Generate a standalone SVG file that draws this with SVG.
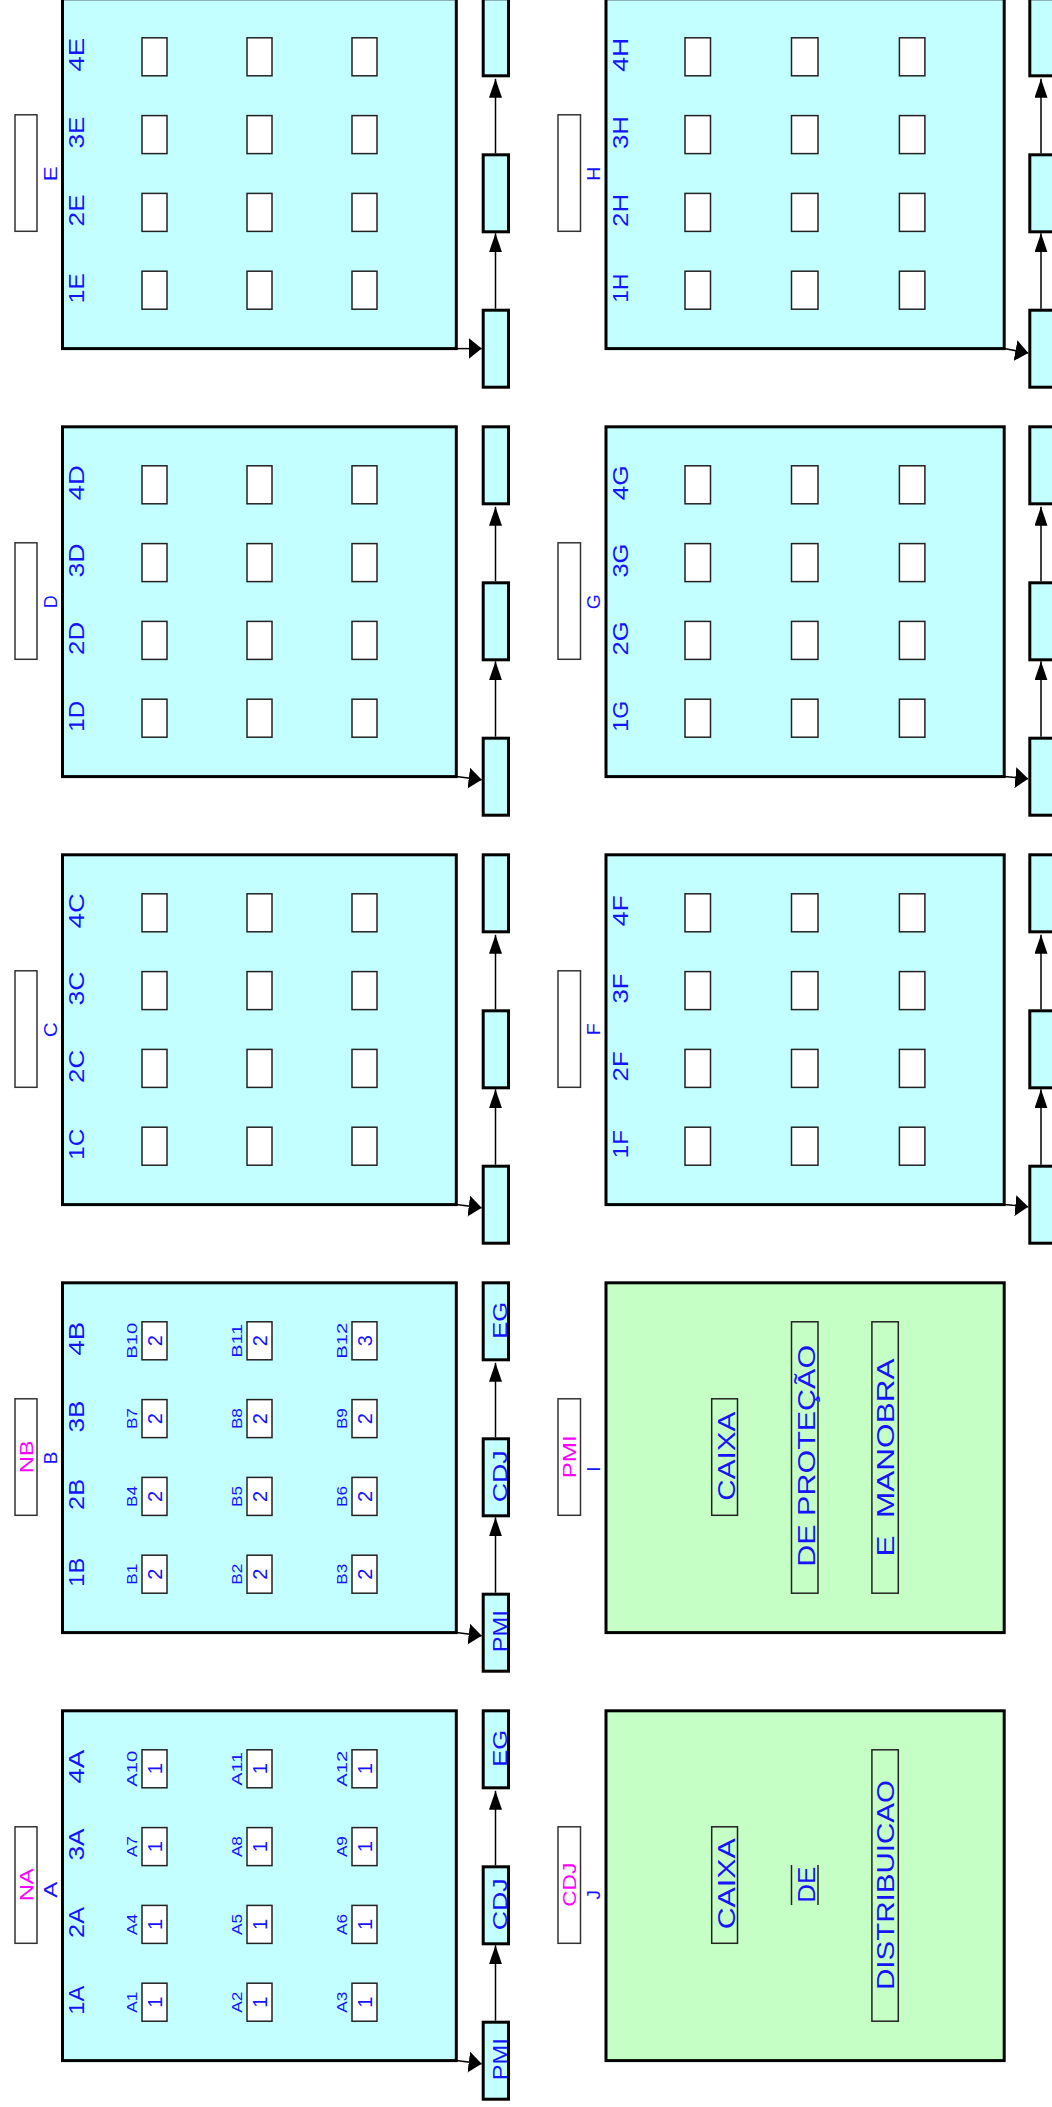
<svg xmlns="http://www.w3.org/2000/svg" width="1052" height="2107" viewBox="0 0 1052 2107">
<style>
.pn{fill:#c4ffff;stroke:#000;stroke-width:3}
.pg{fill:#c6ffc6;stroke:#000;stroke-width:3}
.bk{fill:#c4ffff;stroke:#000;stroke-width:3}
.bx{fill:#fff;stroke:#222;stroke-width:1.5}
.lb{fill:#fff;stroke:#333;stroke-width:1.5}
.tb{fill:none;stroke:#222;stroke-width:1.5}
text{font-family:"Liberation Sans",Arial,sans-serif;fill:#1414ff;text-anchor:middle}
.cl{font-size:22px}
.mg{font-size:19px;fill:#ff00ff}
.lt{font-size:19px}
.sl{font-size:15px}
.nm{font-size:20px}
.bl{font-size:21px}
.big{font-size:24px}
.cn{stroke:#000;stroke-width:1.5;fill:none}
</style>
<defs>
<marker id="av" markerUnits="userSpaceOnUse" markerWidth="19" markerHeight="13" refX="19" refY="6.5" orient="auto"><path d="M0,0 L19,6.5 L0,13 z" fill="#000"/></marker>
<marker id="ah" markerUnits="userSpaceOnUse" markerWidth="13" markerHeight="21" refX="13" refY="10.5" orient="auto"><path d="M0,0 L13,10.5 L0,21 z" fill="#000"/></marker>
</defs>
<rect width="1052" height="2107" fill="#fff"/>

<!-- Panel A -->
<g id="panel-A">
<rect class="lb" x="15" y="1826.8" width="22" height="116.5"/>
<text class="mg" transform="translate(33,1884.8) rotate(-90)" textLength="33" lengthAdjust="spacingAndGlyphs">NA</text>
<text class="lt" transform="translate(57,1889.8) rotate(-90)" textLength="16" lengthAdjust="spacingAndGlyphs">A</text>
<rect class="pn" x="62.5" y="1710.8" width="393.8" height="349.8"/>
<text class="cl" transform="translate(84,1766.8) rotate(-90)" textLength="34" lengthAdjust="spacingAndGlyphs">4A</text>
<text class="cl" transform="translate(84,1844.6) rotate(-90)" textLength="32" lengthAdjust="spacingAndGlyphs">3A</text>
<text class="cl" transform="translate(84,1922.4) rotate(-90)" textLength="31" lengthAdjust="spacingAndGlyphs">2A</text>
<text class="cl" transform="translate(84,2000.2) rotate(-90)" textLength="29" lengthAdjust="spacingAndGlyphs">1A</text>
<rect class="bx" x="142" y="1749.8" width="25" height="38"/><rect class="bx" x="247" y="1749.8" width="25" height="38"/><rect class="bx" x="352" y="1749.8" width="25" height="38"/>
<rect class="bx" x="142" y="1827.6" width="25" height="38"/><rect class="bx" x="247" y="1827.6" width="25" height="38"/><rect class="bx" x="352" y="1827.6" width="25" height="38"/>
<rect class="bx" x="142" y="1905.4" width="25" height="38"/><rect class="bx" x="247" y="1905.4" width="25" height="38"/><rect class="bx" x="352" y="1905.4" width="25" height="38"/>
<rect class="bx" x="142" y="1983.2" width="25" height="38"/><rect class="bx" x="247" y="1983.2" width="25" height="38"/><rect class="bx" x="352" y="1983.2" width="25" height="38"/>
<text class="sl" transform="translate(136.7,1768.8) rotate(-90)" textLength="36" lengthAdjust="spacingAndGlyphs">A10</text>
<text class="sl" transform="translate(241.7,1768.8) rotate(-90)" textLength="34" lengthAdjust="spacingAndGlyphs">A11</text>
<text class="sl" transform="translate(347,1768.8) rotate(-90)" textLength="36" lengthAdjust="spacingAndGlyphs">A12</text>
<text class="sl" transform="translate(136.7,1846.6) rotate(-90)" textLength="21" lengthAdjust="spacingAndGlyphs">A7</text>
<text class="sl" transform="translate(241.7,1846.6) rotate(-90)" textLength="21" lengthAdjust="spacingAndGlyphs">A8</text>
<text class="sl" transform="translate(347,1846.6) rotate(-90)" textLength="21" lengthAdjust="spacingAndGlyphs">A9</text>
<text class="sl" transform="translate(136.7,1924.4) rotate(-90)" textLength="21" lengthAdjust="spacingAndGlyphs">A4</text>
<text class="sl" transform="translate(241.7,1924.4) rotate(-90)" textLength="21" lengthAdjust="spacingAndGlyphs">A5</text>
<text class="sl" transform="translate(347,1924.4) rotate(-90)" textLength="21" lengthAdjust="spacingAndGlyphs">A6</text>
<text class="sl" transform="translate(136.7,2002.2) rotate(-90)" textLength="21" lengthAdjust="spacingAndGlyphs">A1</text>
<text class="sl" transform="translate(241.7,2002.2) rotate(-90)" textLength="21" lengthAdjust="spacingAndGlyphs">A2</text>
<text class="sl" transform="translate(347,2002.2) rotate(-90)" textLength="21" lengthAdjust="spacingAndGlyphs">A3</text>
<text class="nm" transform="translate(161.7,1768.8) rotate(-90)">1</text><text class="nm" transform="translate(266.7,1768.8) rotate(-90)">1</text><text class="nm" transform="translate(371.7,1768.8) rotate(-90)">1</text>
<text class="nm" transform="translate(161.7,1846.6) rotate(-90)">1</text><text class="nm" transform="translate(266.7,1846.6) rotate(-90)">1</text><text class="nm" transform="translate(371.7,1846.6) rotate(-90)">1</text>
<text class="nm" transform="translate(161.7,1924.4) rotate(-90)">1</text><text class="nm" transform="translate(266.7,1924.4) rotate(-90)">1</text><text class="nm" transform="translate(371.7,1924.4) rotate(-90)">1</text>
<text class="nm" transform="translate(161.7,2002.2) rotate(-90)">1</text><text class="nm" transform="translate(266.7,2002.2) rotate(-90)">1</text><text class="nm" transform="translate(371.7,2002.2) rotate(-90)">1</text>
</g>
<g id="A-EG"><rect class="bk" x="483.2" y="1710.8" width="25.3" height="77"/><text class="bl" transform="translate(506.5,1748.3) rotate(-90)" textLength="37" lengthAdjust="spacingAndGlyphs">EG</text></g>
<g id="A-CDJ"><rect class="bk" x="483.2" y="1866.8" width="25.3" height="77"/><text class="bl" transform="translate(506.5,1904.3) rotate(-90)" textLength="52" lengthAdjust="spacingAndGlyphs">CDJ</text></g>
<g id="A-PMI"><rect class="bk" x="483.2" y="2022.2" width="25.3" height="77"/><text class="bl" transform="translate(506.5,2059.3) rotate(-90)" textLength="42" lengthAdjust="spacingAndGlyphs">PMI</text></g>

<!-- Panel B -->
<g id="panel-B">
<rect class="lb" x="15" y="1398.8" width="22" height="116.5"/>
<text class="mg" transform="translate(33,1456.8) rotate(-90)" textLength="33" lengthAdjust="spacingAndGlyphs">NB</text>
<text class="lt" transform="translate(57,1457.8) rotate(-90)">B</text>
<rect class="pn" x="62.5" y="1282.8" width="393.8" height="349.8"/>
<text class="cl" transform="translate(84,1338.8) rotate(-90)" textLength="34" lengthAdjust="spacingAndGlyphs">4B</text>
<text class="cl" transform="translate(84,1416.6) rotate(-90)" textLength="32" lengthAdjust="spacingAndGlyphs">3B</text>
<text class="cl" transform="translate(84,1494.4) rotate(-90)" textLength="31" lengthAdjust="spacingAndGlyphs">2B</text>
<text class="cl" transform="translate(84,1572.2) rotate(-90)" textLength="29" lengthAdjust="spacingAndGlyphs">1B</text>
<rect class="bx" x="142" y="1321.8" width="25" height="38"/><rect class="bx" x="247" y="1321.8" width="25" height="38"/><rect class="bx" x="352" y="1321.8" width="25" height="38"/>
<rect class="bx" x="142" y="1399.6" width="25" height="38"/><rect class="bx" x="247" y="1399.6" width="25" height="38"/><rect class="bx" x="352" y="1399.6" width="25" height="38"/>
<rect class="bx" x="142" y="1477.4" width="25" height="38"/><rect class="bx" x="247" y="1477.4" width="25" height="38"/><rect class="bx" x="352" y="1477.4" width="25" height="38"/>
<rect class="bx" x="142" y="1555.2" width="25" height="38"/><rect class="bx" x="247" y="1555.2" width="25" height="38"/><rect class="bx" x="352" y="1555.2" width="25" height="38"/>
<text class="sl" transform="translate(136.7,1340.8) rotate(-90)" textLength="36" lengthAdjust="spacingAndGlyphs">B10</text>
<text class="sl" transform="translate(241.7,1340.8) rotate(-90)" textLength="34" lengthAdjust="spacingAndGlyphs">B11</text>
<text class="sl" transform="translate(347,1340.8) rotate(-90)" textLength="36" lengthAdjust="spacingAndGlyphs">B12</text>
<text class="sl" transform="translate(136.7,1418.6) rotate(-90)" textLength="21" lengthAdjust="spacingAndGlyphs">B7</text>
<text class="sl" transform="translate(241.7,1418.6) rotate(-90)" textLength="21" lengthAdjust="spacingAndGlyphs">B8</text>
<text class="sl" transform="translate(347,1418.6) rotate(-90)" textLength="21" lengthAdjust="spacingAndGlyphs">B9</text>
<text class="sl" transform="translate(136.7,1496.4) rotate(-90)" textLength="21" lengthAdjust="spacingAndGlyphs">B4</text>
<text class="sl" transform="translate(241.7,1496.4) rotate(-90)" textLength="21" lengthAdjust="spacingAndGlyphs">B5</text>
<text class="sl" transform="translate(347,1496.4) rotate(-90)" textLength="21" lengthAdjust="spacingAndGlyphs">B6</text>
<text class="sl" transform="translate(136.7,1574.2) rotate(-90)" textLength="21" lengthAdjust="spacingAndGlyphs">B1</text>
<text class="sl" transform="translate(241.7,1574.2) rotate(-90)" textLength="21" lengthAdjust="spacingAndGlyphs">B2</text>
<text class="sl" transform="translate(347,1574.2) rotate(-90)" textLength="21" lengthAdjust="spacingAndGlyphs">B3</text>
<text class="nm" transform="translate(161.7,1340.8) rotate(-90)">2</text><text class="nm" transform="translate(266.7,1340.8) rotate(-90)">2</text><text class="nm" transform="translate(371.7,1340.8) rotate(-90)">3</text>
<text class="nm" transform="translate(161.7,1418.6) rotate(-90)">2</text><text class="nm" transform="translate(266.7,1418.6) rotate(-90)">2</text><text class="nm" transform="translate(371.7,1418.6) rotate(-90)">2</text>
<text class="nm" transform="translate(161.7,1496.4) rotate(-90)">2</text><text class="nm" transform="translate(266.7,1496.4) rotate(-90)">2</text><text class="nm" transform="translate(371.7,1496.4) rotate(-90)">2</text>
<text class="nm" transform="translate(161.7,1574.2) rotate(-90)">2</text><text class="nm" transform="translate(266.7,1574.2) rotate(-90)">2</text><text class="nm" transform="translate(371.7,1574.2) rotate(-90)">2</text>
</g>
<g id="B-EG"><rect class="bk" x="483.2" y="1282.8" width="25.3" height="77"/><text class="bl" transform="translate(506.5,1320.3) rotate(-90)" textLength="37" lengthAdjust="spacingAndGlyphs">EG</text></g>
<g id="B-CDJ"><rect class="bk" x="483.2" y="1438.8" width="25.3" height="77"/><text class="bl" transform="translate(506.5,1476.3) rotate(-90)" textLength="52" lengthAdjust="spacingAndGlyphs">CDJ</text></g>
<g id="B-PMI"><rect class="bk" x="483.2" y="1594.2" width="25.3" height="77"/><text class="bl" transform="translate(506.5,1631.3) rotate(-90)" textLength="42" lengthAdjust="spacingAndGlyphs">PMI</text></g>

<!-- Panel C -->
<g id="panel-C">
<rect class="lb" x="15" y="970.8" width="22" height="116.5"/>
<text class="lt" transform="translate(57,1029.8) rotate(-90)" textLength="15" lengthAdjust="spacingAndGlyphs">C</text>
<rect class="pn" x="62.5" y="854.8" width="393.8" height="349.8"/>
<text class="cl" transform="translate(84,910.8) rotate(-90)" textLength="35" lengthAdjust="spacingAndGlyphs">4C</text>
<text class="cl" transform="translate(84,988.6) rotate(-90)" textLength="34" lengthAdjust="spacingAndGlyphs">3C</text>
<text class="cl" transform="translate(84,1066.4) rotate(-90)" textLength="33" lengthAdjust="spacingAndGlyphs">2C</text>
<text class="cl" transform="translate(84,1144.2) rotate(-90)" textLength="31" lengthAdjust="spacingAndGlyphs">1C</text>
<rect class="bx" x="142" y="893.8" width="25" height="38"/><rect class="bx" x="247" y="893.8" width="25" height="38"/><rect class="bx" x="352" y="893.8" width="25" height="38"/>
<rect class="bx" x="142" y="971.6" width="25" height="38"/><rect class="bx" x="247" y="971.6" width="25" height="38"/><rect class="bx" x="352" y="971.6" width="25" height="38"/>
<rect class="bx" x="142" y="1049.4" width="25" height="38"/><rect class="bx" x="247" y="1049.4" width="25" height="38"/><rect class="bx" x="352" y="1049.4" width="25" height="38"/>
<rect class="bx" x="142" y="1127.2" width="25" height="38"/><rect class="bx" x="247" y="1127.2" width="25" height="38"/><rect class="bx" x="352" y="1127.2" width="25" height="38"/>
</g>
<g id="C-top"><rect class="bk" x="483.2" y="854.8" width="25.3" height="77"/></g>
<g id="C-mid"><rect class="bk" x="483.2" y="1010.8" width="25.3" height="77"/></g>
<g id="C-bot"><rect class="bk" x="483.2" y="1166.2" width="25.3" height="77"/></g>

<!-- Panel D -->
<g id="panel-D">
<rect class="lb" x="15" y="542.8" width="22" height="116.5"/>
<text class="lt" transform="translate(57,601.8) rotate(-90)" textLength="13" lengthAdjust="spacingAndGlyphs">D</text>
<rect class="pn" x="62.5" y="426.8" width="393.8" height="349.8"/>
<text class="cl" transform="translate(84,482.8) rotate(-90)" textLength="35" lengthAdjust="spacingAndGlyphs">4D</text>
<text class="cl" transform="translate(84,560.6) rotate(-90)" textLength="34" lengthAdjust="spacingAndGlyphs">3D</text>
<text class="cl" transform="translate(84,638.4) rotate(-90)" textLength="33" lengthAdjust="spacingAndGlyphs">2D</text>
<text class="cl" transform="translate(84,716.2) rotate(-90)" textLength="31" lengthAdjust="spacingAndGlyphs">1D</text>
<rect class="bx" x="142" y="465.8" width="25" height="38"/><rect class="bx" x="247" y="465.8" width="25" height="38"/><rect class="bx" x="352" y="465.8" width="25" height="38"/>
<rect class="bx" x="142" y="543.6" width="25" height="38"/><rect class="bx" x="247" y="543.6" width="25" height="38"/><rect class="bx" x="352" y="543.6" width="25" height="38"/>
<rect class="bx" x="142" y="621.4" width="25" height="38"/><rect class="bx" x="247" y="621.4" width="25" height="38"/><rect class="bx" x="352" y="621.4" width="25" height="38"/>
<rect class="bx" x="142" y="699.2" width="25" height="38"/><rect class="bx" x="247" y="699.2" width="25" height="38"/><rect class="bx" x="352" y="699.2" width="25" height="38"/>
</g>
<g id="D-top"><rect class="bk" x="483.2" y="426.8" width="25.3" height="77"/></g>
<g id="D-mid"><rect class="bk" x="483.2" y="582.8" width="25.3" height="77"/></g>
<g id="D-bot"><rect class="bk" x="483.2" y="738.2" width="25.3" height="77"/></g>

<!-- Panel E -->
<g id="panel-E">
<rect class="lb" x="15" y="114.8" width="22" height="116.5"/>
<text class="lt" transform="translate(57,173.8) rotate(-90)" textLength="15" lengthAdjust="spacingAndGlyphs">E</text>
<rect class="pn" x="62.5" y="-1.2" width="393.8" height="349.8"/>
<text class="cl" transform="translate(84,54.8) rotate(-90)" textLength="34" lengthAdjust="spacingAndGlyphs">4E</text>
<text class="cl" transform="translate(84,132.6) rotate(-90)" textLength="32" lengthAdjust="spacingAndGlyphs">3E</text>
<text class="cl" transform="translate(84,210.4) rotate(-90)" textLength="32" lengthAdjust="spacingAndGlyphs">2E</text>
<text class="cl" transform="translate(84,288.2) rotate(-90)" textLength="30" lengthAdjust="spacingAndGlyphs">1E</text>
<rect class="bx" x="142" y="37.8" width="25" height="38"/><rect class="bx" x="247" y="37.8" width="25" height="38"/><rect class="bx" x="352" y="37.8" width="25" height="38"/>
<rect class="bx" x="142" y="115.6" width="25" height="38"/><rect class="bx" x="247" y="115.6" width="25" height="38"/><rect class="bx" x="352" y="115.6" width="25" height="38"/>
<rect class="bx" x="142" y="193.4" width="25" height="38"/><rect class="bx" x="247" y="193.4" width="25" height="38"/><rect class="bx" x="352" y="193.4" width="25" height="38"/>
<rect class="bx" x="142" y="271.2" width="25" height="38"/><rect class="bx" x="247" y="271.2" width="25" height="38"/><rect class="bx" x="352" y="271.2" width="25" height="38"/>
</g>
<g id="E-top"><rect class="bk" x="483.2" y="-1.2" width="25.3" height="77"/></g>
<g id="E-mid"><rect class="bk" x="483.2" y="154.8" width="25.3" height="77"/></g>
<g id="E-bot"><rect class="bk" x="483.2" y="310.2" width="25.3" height="77"/></g>

<!-- Panel F -->
<g id="panel-F">
<rect class="lb" x="558" y="970.8" width="22.5" height="116.5"/>
<text class="lt" transform="translate(599.7,1029.3) rotate(-90)" textLength="12" lengthAdjust="spacingAndGlyphs">F</text>
<rect class="pn" x="606" y="854.8" width="398.2" height="349.8"/>
<text class="cl" transform="translate(628,910.8) rotate(-90)" textLength="31" lengthAdjust="spacingAndGlyphs">4F</text>
<text class="cl" transform="translate(628,988.6) rotate(-90)" textLength="30" lengthAdjust="spacingAndGlyphs">3F</text>
<text class="cl" transform="translate(628,1066.4) rotate(-90)" textLength="30" lengthAdjust="spacingAndGlyphs">2F</text>
<text class="cl" transform="translate(628,1144.2) rotate(-90)" textLength="28" lengthAdjust="spacingAndGlyphs">1F</text>
<rect class="bx" x="685" y="893.8" width="25.5" height="38"/><rect class="bx" x="791.5" y="893.8" width="26.5" height="38"/><rect class="bx" x="899.4" y="893.8" width="25.5" height="38"/>
<rect class="bx" x="685" y="971.6" width="25.5" height="38"/><rect class="bx" x="791.5" y="971.6" width="26.5" height="38"/><rect class="bx" x="899.4" y="971.6" width="25.5" height="38"/>
<rect class="bx" x="685" y="1049.4" width="25.5" height="38"/><rect class="bx" x="791.5" y="1049.4" width="26.5" height="38"/><rect class="bx" x="899.4" y="1049.4" width="25.5" height="38"/>
<rect class="bx" x="685" y="1127.2" width="25.5" height="38"/><rect class="bx" x="791.5" y="1127.2" width="26.5" height="38"/><rect class="bx" x="899.4" y="1127.2" width="25.5" height="38"/>
</g>
<g id="F-top"><rect class="bk" x="1029.8" y="854.8" width="25.3" height="77"/></g>
<g id="F-mid"><rect class="bk" x="1029.8" y="1010.8" width="25.3" height="77"/></g>
<g id="F-bot"><rect class="bk" x="1029.8" y="1166.2" width="25.3" height="77"/></g>

<!-- Panel G -->
<g id="panel-G">
<rect class="lb" x="558" y="542.8" width="22.5" height="116.5"/>
<text class="lt" transform="translate(599.7,601.8) rotate(-90)" textLength="15" lengthAdjust="spacingAndGlyphs">G</text>
<rect class="pn" x="606" y="426.8" width="398.2" height="349.8"/>
<text class="cl" transform="translate(628,482.8) rotate(-90)" textLength="35" lengthAdjust="spacingAndGlyphs">4G</text>
<text class="cl" transform="translate(628,560.6) rotate(-90)" textLength="34" lengthAdjust="spacingAndGlyphs">3G</text>
<text class="cl" transform="translate(628,638.4) rotate(-90)" textLength="34" lengthAdjust="spacingAndGlyphs">2G</text>
<text class="cl" transform="translate(628,716.2) rotate(-90)" textLength="31" lengthAdjust="spacingAndGlyphs">1G</text>
<rect class="bx" x="685" y="465.8" width="25.5" height="38"/><rect class="bx" x="791.5" y="465.8" width="26.5" height="38"/><rect class="bx" x="899.4" y="465.8" width="25.5" height="38"/>
<rect class="bx" x="685" y="543.6" width="25.5" height="38"/><rect class="bx" x="791.5" y="543.6" width="26.5" height="38"/><rect class="bx" x="899.4" y="543.6" width="25.5" height="38"/>
<rect class="bx" x="685" y="621.4" width="25.5" height="38"/><rect class="bx" x="791.5" y="621.4" width="26.5" height="38"/><rect class="bx" x="899.4" y="621.4" width="25.5" height="38"/>
<rect class="bx" x="685" y="699.2" width="25.5" height="38"/><rect class="bx" x="791.5" y="699.2" width="26.5" height="38"/><rect class="bx" x="899.4" y="699.2" width="25.5" height="38"/>
</g>
<g id="G-top"><rect class="bk" x="1029.8" y="426.8" width="25.3" height="77"/></g>
<g id="G-mid"><rect class="bk" x="1029.8" y="582.8" width="25.3" height="77"/></g>
<g id="G-bot"><rect class="bk" x="1029.8" y="738.2" width="25.3" height="77"/></g>

<!-- Panel H -->
<g id="panel-H">
<rect class="lb" x="558" y="114.8" width="22.5" height="116.5"/>
<text class="lt" transform="translate(599.7,173.8) rotate(-90)" textLength="14" lengthAdjust="spacingAndGlyphs">H</text>
<rect class="pn" x="606" y="-1.2" width="398.2" height="349.8"/>
<text class="cl" transform="translate(628,54.8) rotate(-90)" textLength="34" lengthAdjust="spacingAndGlyphs">4H</text>
<text class="cl" transform="translate(628,132.6) rotate(-90)" textLength="33" lengthAdjust="spacingAndGlyphs">3H</text>
<text class="cl" transform="translate(628,210.4) rotate(-90)" textLength="33" lengthAdjust="spacingAndGlyphs">2H</text>
<text class="cl" transform="translate(628,288.2) rotate(-90)" textLength="29" lengthAdjust="spacingAndGlyphs">1H</text>
<rect class="bx" x="685" y="37.8" width="25.5" height="38"/><rect class="bx" x="791.5" y="37.8" width="26.5" height="38"/><rect class="bx" x="899.4" y="37.8" width="25.5" height="38"/>
<rect class="bx" x="685" y="115.6" width="25.5" height="38"/><rect class="bx" x="791.5" y="115.6" width="26.5" height="38"/><rect class="bx" x="899.4" y="115.6" width="25.5" height="38"/>
<rect class="bx" x="685" y="193.4" width="25.5" height="38"/><rect class="bx" x="791.5" y="193.4" width="26.5" height="38"/><rect class="bx" x="899.4" y="193.4" width="25.5" height="38"/>
<rect class="bx" x="685" y="271.2" width="25.5" height="38"/><rect class="bx" x="791.5" y="271.2" width="26.5" height="38"/><rect class="bx" x="899.4" y="271.2" width="25.5" height="38"/>
</g>
<g id="H-top"><rect class="bk" x="1029.8" y="-1.2" width="25.3" height="77"/></g>
<g id="H-mid"><rect class="bk" x="1029.8" y="154.8" width="25.3" height="77"/></g>
<g id="H-bot"><rect class="bk" x="1029.8" y="310.2" width="25.3" height="77"/></g>

<!-- Panel I -->
<g id="panel-I">
<rect class="lb" x="558" y="1398.8" width="22.5" height="116.5"/>
<text class="mg" transform="translate(576,1456.8) rotate(-90)" textLength="43" lengthAdjust="spacingAndGlyphs">PMI</text>
<text class="lt" transform="translate(599.7,1469) rotate(-90)">I</text>
<rect class="pg" x="606" y="1282.8" width="398.2" height="349.8"/>
<rect class="tb" x="711.7" y="1398.8" width="25.8" height="116.5"/>
<text class="big" transform="translate(734.5,1456.2) rotate(-90)" textLength="89" lengthAdjust="spacingAndGlyphs">CAIXA</text>
<rect class="tb" x="791.5" y="1321.8" width="26.5" height="271.4"/>
<text class="big" transform="translate(814.5,1455.8) rotate(-90)" textLength="222" lengthAdjust="spacingAndGlyphs">DE PROTEÇÃO</text>
<rect class="tb" x="871.9" y="1321.8" width="26.4" height="271.4"/>
<text class="big" transform="translate(894.3,1457.5) rotate(-90)" textLength="198" lengthAdjust="spacingAndGlyphs" xml:space="preserve">E  MANOBRA</text>
</g>

<!-- Panel J -->
<g id="panel-J">
<rect class="lb" x="558" y="1826.8" width="22.5" height="116.5"/>
<text class="mg" transform="translate(576,1884.8) rotate(-90)" textLength="44" lengthAdjust="spacingAndGlyphs">CDJ</text>
<text class="lt" transform="translate(599.7,1894.8) rotate(-90)">J</text>
<rect class="pg" x="606" y="1710.8" width="398.2" height="349.8"/>
<rect class="tb" x="711.7" y="1826.8" width="25.8" height="116.5"/>
<text class="big" transform="translate(734.5,1883.8) rotate(-90)" textLength="91" lengthAdjust="spacingAndGlyphs">CAIXA</text>
<line class="tb" x1="791.5" y1="1865" x2="791.5" y2="1905"/>
<line class="tb" x1="818" y1="1865" x2="818" y2="1905"/>
<text class="big" transform="translate(815,1884.7) rotate(-90)" textLength="36" lengthAdjust="spacingAndGlyphs">DE</text>
<rect class="tb" x="871.9" y="1749.8" width="26.4" height="271.4"/>
<text class="big" transform="translate(894.3,1885) rotate(-90)" textLength="210" lengthAdjust="spacingAndGlyphs">DISTRIBUICAO</text>
</g>

<!-- Connectors -->
<g id="connectors" class="cn">
<line x1="456.3" y1="2060.6" x2="481.7" y2="2063.8" marker-end="url(#ah)"/>
<line x1="495.5" y1="2020.7" x2="495.5" y2="1945.3" marker-end="url(#av)"/>
<line x1="495.5" y1="1865.3" x2="495.5" y2="1790.8" marker-end="url(#av)"/>

<line x1="456.3" y1="1632.6" x2="481.7" y2="1635.8" marker-end="url(#ah)"/>
<line x1="495.5" y1="1592.7" x2="495.5" y2="1517.3" marker-end="url(#av)"/>
<line x1="495.5" y1="1437.3" x2="495.5" y2="1362.8" marker-end="url(#av)"/>

<line x1="456.3" y1="1204.6" x2="481.7" y2="1207.8" marker-end="url(#ah)"/>
<line x1="495.5" y1="1164.7" x2="495.5" y2="1089.3" marker-end="url(#av)"/>
<line x1="495.5" y1="1009.3" x2="495.5" y2="934.8" marker-end="url(#av)"/>

<line x1="456.3" y1="776.6" x2="481.7" y2="779.8" marker-end="url(#ah)"/>
<line x1="495.5" y1="736.7" x2="495.5" y2="661.3" marker-end="url(#av)"/>
<line x1="495.5" y1="581.3" x2="495.5" y2="506.8" marker-end="url(#av)"/>

<line x1="456.3" y1="348.6" x2="481.7" y2="348.6" marker-end="url(#ah)"/>
<line x1="495.5" y1="308.7" x2="495.5" y2="233.3" marker-end="url(#av)"/>
<line x1="495.5" y1="153.3" x2="495.5" y2="78.8" marker-end="url(#av)"/>

<line x1="1004.2" y1="1204.6" x2="1028.3" y2="1206.8" marker-end="url(#ah)"/>
<line x1="1041" y1="1164.7" x2="1041" y2="1089.3" marker-end="url(#av)"/>
<line x1="1041" y1="1009.3" x2="1041" y2="934.8" marker-end="url(#av)"/>

<line x1="1004.2" y1="776.6" x2="1028.3" y2="778.8" marker-end="url(#ah)"/>
<line x1="1041" y1="736.7" x2="1041" y2="661.3" marker-end="url(#av)"/>
<line x1="1041" y1="581.3" x2="1041" y2="506.8" marker-end="url(#av)"/>

<line x1="1004.2" y1="348.6" x2="1028.3" y2="353" marker-end="url(#ah)"/>
<line x1="1041" y1="308.7" x2="1041" y2="233.3" marker-end="url(#av)"/>
<line x1="1041" y1="153.3" x2="1041" y2="78.8" marker-end="url(#av)"/>
</g>
</svg>
